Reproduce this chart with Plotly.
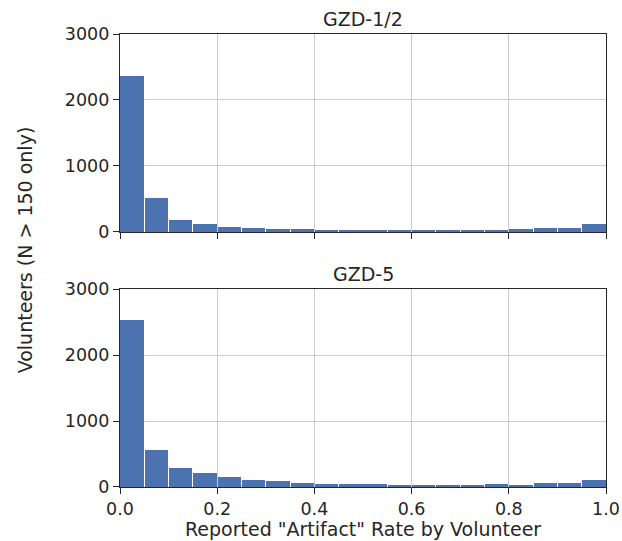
import plotly.graph_objects as go
from plotly.subplots import make_subplots

# Histogram bins: 20 equal bins over [0, 1]
bin_width = 0.05
bin_centers = [round(bin_width * (i + 0.5), 3) for i in range(20)]

# Volunteer counts per bin of reported "Artifact" rate
counts_gzd12 = [2370, 515, 182, 126, 78, 65, 40, 50, 20, 15,
                35, 15, 35, 15, 35, 35, 48, 55, 65, 115]
counts_gzd5 = [2530, 559, 292, 210, 151, 106, 91, 65, 40, 45,
               50, 30, 35, 25, 25, 50, 30, 65, 55, 111]

panel_titles = ["GZD-1/2", "GZD-5"]
x_title = 'Reported "Artifact" Rate by Volunteer'
y_title = "Volunteers (N > 150 only)"
x_ticks = [0.0, 0.2, 0.4, 0.6, 0.8, 1.0]
y_ticks = [0, 1000, 2000, 3000]

BAR = "#4c72b0"
INK = "#262626"
GRID = "#cccccc"
FONT = "DejaVu Sans"
TICK_SIZE = 17.5
LABEL_SIZE = 19

fig = make_subplots(rows=2, cols=1, shared_xaxes=False, vertical_spacing=0.126)

for row, counts in enumerate([counts_gzd12, counts_gzd5], start=1):
    fig.add_trace(
        go.Bar(
            x=bin_centers, y=counts, width=bin_width * 0.96,
            marker=dict(color=BAR, line=dict(width=0)),
            showlegend=False,
        ),
        row=row, col=1,
    )

axis_common = dict(
    showline=True, linecolor=INK, linewidth=1.25, mirror=True,
    showgrid=True, gridcolor=GRID, gridwidth=1,
    ticks="outside", ticklen=6, tickwidth=1.25, tickcolor=INK,
    tickfont=dict(family=FONT, size=TICK_SIZE, color=INK),
    zeroline=False, automargin=False,
)

for row in (1, 2):
    fig.update_xaxes(
        range=[0, 1], tickvals=x_ticks,
        ticktext=[f"{v:.1f}" for v in x_ticks],
        showticklabels=(row == 2), row=row, col=1, **axis_common,
    )
    fig.update_yaxes(
        range=[0, 3000], tickvals=y_ticks, row=row, col=1, **axis_common,
    )

text_font = dict(family=FONT, size=LABEL_SIZE, color=INK)
annotations = [
    dict(text=panel_titles[0], x=0.5, y=1.0, xref="paper", yref="paper",
         xanchor="center", yanchor="bottom", yshift=2, showarrow=False,
         font=text_font),
    dict(text=panel_titles[1], x=0.5, y=0.437, xref="paper", yref="paper",
         xanchor="center", yanchor="bottom", yshift=2, showarrow=False,
         font=text_font),
    dict(text=x_title, x=0.5, y=0.0, xref="paper", yref="paper",
         xanchor="center", yanchor="middle", yshift=-42, showarrow=False,
         font=text_font),
    dict(text=y_title, x=-0.195, y=0.523,
         xref="paper", yref="paper", textangle=-90,
         xanchor="center", yanchor="middle", showarrow=False,
         font=text_font),
]

fig.update_layout(
    width=622, height=541,
    margin=dict(l=120, r=16, t=34, b=54),
    paper_bgcolor="white", plot_bgcolor="white",
    bargap=0, annotations=annotations,
    font=dict(family=FONT, size=TICK_SIZE, color=INK),
)

fig.write_html("out.html")
